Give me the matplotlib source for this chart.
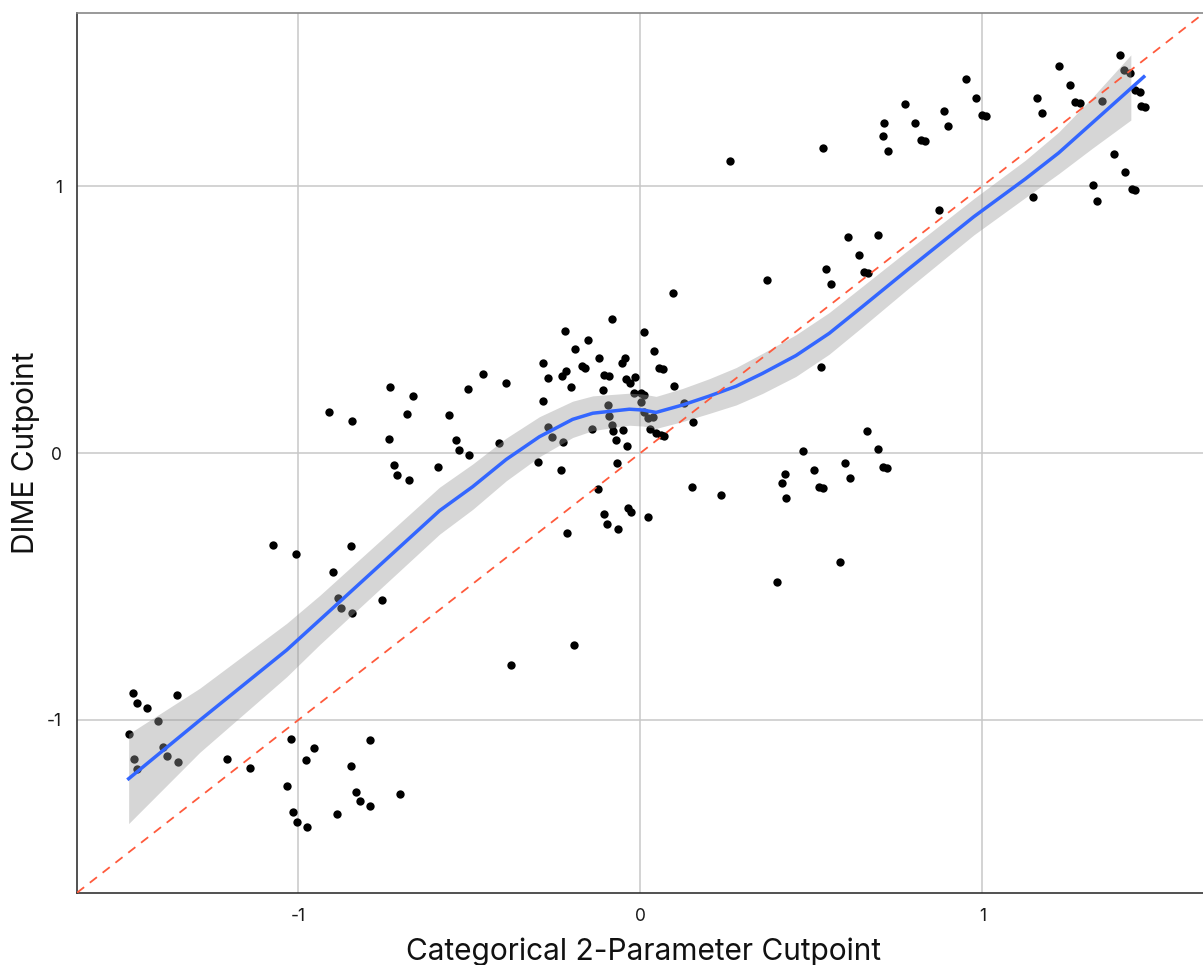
import matplotlib
matplotlib.use("Agg")
import matplotlib.pyplot as plt

plt.rcParams['font.family'] = ['Inter', 'DejaVu Sans']

# scatter: categorical 2-parameter cutpoint (x) vs DIME cutpoint (y)
cat_x = [-1.483, -1.472, -1.442, -1.356, -1.410, -1.496, -1.395, -1.480, -1.385, -1.353,
         -1.472, -1.208, -1.140, -1.022, -0.954, -0.978, -0.791, -0.846, -1.033, -0.830,
         -0.820, -0.789, -0.703, -1.015, -1.005, -0.975, -0.888, -1.075, -1.008, -0.846,
         -0.900, -0.884, -0.874, -0.842, -0.755, -0.379, -0.193, 0.399, -0.733, -0.665,
         -0.911, -0.843, -0.681, -0.558, -0.736, -0.540, -0.531, -0.719, -0.710, -0.677,
         -0.592, -0.082, -0.220, 0.010, -0.152, -0.190, 0.041, -0.284, -0.460, -0.392,
         -0.503, -0.271, -0.230, -0.217, -0.202, -0.171, -0.161, -0.122, -0.053, -0.045,
         -0.105, -0.093, -0.042, -0.029, -0.015, -0.110, 0.055, 0.067, 0.099, -0.020,
         0.002, 0.012, 0.002, -0.284, -0.095, -0.093, 0.012, 0.021, 0.036, 0.028,
         0.046, 0.060, 0.070, 0.128, 0.153, -0.500, -0.414, -0.269, -0.258, -0.227,
         -0.140, -0.084, -0.079, -0.052, -0.070, -0.038, -0.299, -0.231, -0.069, -0.123,
         0.151, -0.037, -0.027, -0.107, 0.021, -0.097, -0.065, -0.214, 0.664, 0.477,
         0.694, 0.599, 0.507, 0.423, 0.413, 0.612, 0.709, 0.722, 0.237, 0.523,
         0.534, 0.425, 0.585, 0.608, 0.695, 0.639, 0.544, 0.558, 0.655, 0.667,
         0.369, 0.096, 0.529, 1.401, 1.224, 0.952, 1.255, 0.982, 1.160, 1.413,
         1.431, 0.774, 0.888, 1.272, 1.284, 1.349, 1.174, 0.999, 1.011, 1.447,
         1.460, 1.463, 1.474, 0.712, 0.804, 0.900, 0.709, 0.821, 0.832, 0.723,
         1.386, 1.416, 1.322, 1.436, 1.445, 1.147, 1.334, 0.873, 0.261, 0.534]
dime_y = [-0.899, -0.935, -0.955, -0.906, -1.004, -1.051, -1.100, -1.147, -1.136, -1.156,
          -1.182, -1.147, -1.180, -1.070, -1.104, -1.151, -1.075, -1.172, -1.248, -1.269,
          -1.304, -1.323, -1.277, -1.346, -1.381, -1.401, -1.352, -0.343, -0.377, -0.349,
          -0.446, -0.542, -0.579, -0.599, -0.551, -0.795, -0.720, -0.483, 0.246, 0.213,
          0.154, 0.120, 0.147, 0.144, 0.051, 0.049, 0.013, -0.046, -0.081, -0.101,
          -0.054, 0.503, 0.457, 0.452, 0.424, 0.388, 0.382, 0.338, 0.296, 0.263,
          0.241, 0.281, 0.290, 0.306, 0.248, 0.326, 0.319, 0.355, 0.336, 0.356,
          0.293, 0.287, 0.277, 0.261, 0.286, 0.236, 0.318, 0.315, 0.251, 0.224,
          0.226, 0.217, 0.192, 0.194, 0.180, 0.139, 0.155, 0.130, 0.136, 0.090,
          0.076, 0.067, 0.065, 0.186, 0.117, -0.009, 0.039, 0.099, 0.061, 0.040,
          0.090, 0.106, 0.084, 0.085, 0.049, 0.027, -0.033, -0.065, -0.037, -0.135,
          -0.128, -0.205, -0.222, -0.228, -0.239, -0.266, -0.286, -0.299, 0.082, 0.006,
          0.014, -0.036, -0.063, -0.079, -0.112, -0.093, -0.051, -0.056, -0.156, -0.126,
          -0.132, -0.169, -0.407, 0.809, 0.818, 0.740, 0.689, 0.633, 0.678, 0.673,
          0.647, 0.598, 0.321, 1.492, 1.449, 1.400, 1.379, 1.330, 1.330, 1.436,
          1.424, 1.306, 1.281, 1.316, 1.310, 1.317, 1.273, 1.265, 1.261, 1.360,
          1.353, 1.300, 1.297, 1.237, 1.237, 1.224, 1.186, 1.172, 1.169, 1.130,
          1.121, 1.052, 1.004, 0.988, 0.984, 0.960, 0.945, 0.910, 1.095, 1.143]

# loess fit and its confidence band
fit_x = [-1.496, -1.288, -1.034, -0.937, -0.587, -0.490, -0.392, -0.295, -0.198, -0.139,
         -0.032, 0.007, 0.046, 0.124, 0.201, 0.280, 0.357, 0.455, 0.552, 0.649, 0.785,
         0.975, 1.126, 1.223, 1.321, 1.472]
fit_y = [-1.220, -1.001, -0.738, -0.625, -0.216, -0.126, -0.024, 0.061, 0.126, 0.149,
         0.164, 0.161, 0.152, 0.180, 0.213, 0.250, 0.298, 0.365, 0.448, 0.548, 0.690,
         0.885, 1.027, 1.124, 1.236, 1.409]
band_x = [-1.496, -1.288, -1.034, -0.937, -0.587, -0.490, -0.392, -0.295, -0.198, -0.139,
          -0.032, 0.007, 0.046, 0.124, 0.201, 0.280, 0.357, 0.455, 0.552, 0.649, 0.785,
          0.975, 1.126, 1.223, 1.321, 1.434]
band_lo = [-1.388, -1.121, -0.838, -0.717, -0.304, -0.211, -0.104, -0.014, 0.058, 0.084,
           0.104, 0.101, 0.092, 0.118, 0.148, 0.180, 0.223, 0.287, 0.370, 0.472, 0.618,
           0.817, 0.957, 1.046, 1.141, 1.247]
band_hi = [-1.052, -0.881, -0.638, -0.533, -0.128, -0.041, 0.056, 0.136, 0.194, 0.214,
           0.224, 0.221, 0.212, 0.242, 0.278, 0.320, 0.373, 0.443, 0.526, 0.624, 0.762,
           0.953, 1.097, 1.202, 1.331, 1.491]

ticks = [-1, 0, 1]

fig = plt.figure(figsize=(12.03, 9.65), dpi=100)
ax = fig.add_axes([77 / 1203, 72 / 965, 1 - 77 / 1203, 880 / 965])

ax.scatter(cat_x, dime_y, s=36, color='black', linewidths=0, zorder=2)
ax.fill_between(band_x, band_lo, band_hi, color='#999999', alpha=0.4, linewidth=0, zorder=3)
ax.plot(fit_x, fit_y, color='#3366FF', lw=2.5, zorder=4, solid_joinstyle='round')
ax.axline((0, 0), slope=1, color='#FF5A3C', lw=1.3, ls=(0, (5, 4)), zorder=5)

ax.set_xlim(-1.647, 1.645)
ax.set_ylim(-1.648, 1.648)
ax.set_xticks(ticks)
ax.set_yticks(ticks)
ax.set_xticklabels(['-1', '0', '1'])
ax.set_yticklabels(['-1', '0', '1'])
ax.grid(True, color='#c8c8c8', lw=1.1, zorder=0)
ax.set_axisbelow(True)
ax.tick_params(length=0, labelsize=12.5, labelcolor='#1a1a1a')
ax.tick_params(axis='x', pad=11)
ax.tick_params(axis='y', pad=11)

for s in ['left', 'bottom']:
    ax.spines[s].set_color('#333333')
    ax.spines[s].set_linewidth(1.2)
ax.spines['top'].set_color('#888888')
ax.spines['top'].set_linewidth(1.2)
ax.spines['right'].set_visible(False)

ax.set_xlabel('Categorical 2-Parameter Cutpoint', fontsize=21.5, color='#111111')
ax.set_ylabel('DIME Cutpoint', fontsize=21.5, color='#111111')
ax.xaxis.set_label_coords(0.503, -0.050)
ax.yaxis.set_label_coords(-0.033, 0.5)

fig.savefig('out.png', dpi=100)
